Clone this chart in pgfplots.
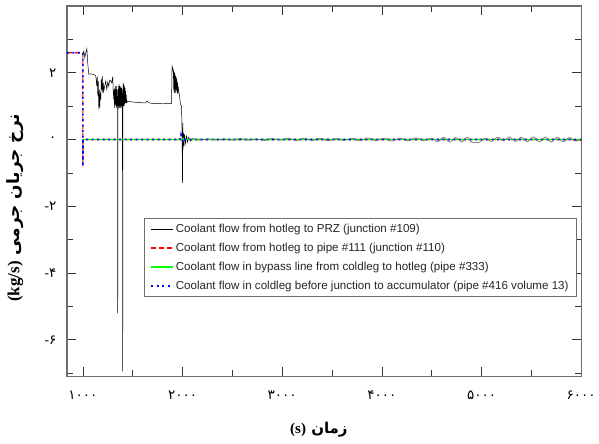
\documentclass[border=0pt]{standalone}
\usepackage{fontspec}
\usepackage{pgfplots}
\pgfplotsset{compat=1.18}
\setmainfont{Liberation Sans}
\newfontfamily\arabicfont[Script=Arabic]{DejaVu Sans}
\newfontfamily\latinserif{Liberation Serif}
\TeXXeTstate=1
\definecolor{frame}{RGB}{110,110,110}
\definecolor{lgreen}{RGB}{0,255,0}
\begin{document}
\begin{tikzpicture}
\begin{axis}[
  scale only axis,
  width=515pt, height=371pt,
  xmin=840, xmax=6000, ymin=-7.1, ymax=4,
  xtick={1000,2000,3000,4000,5000,6000},
  xticklabels={\mbox{۱۰۰۰},\mbox{۲۰۰۰},\mbox{۳۰۰۰},\mbox{۴۰۰۰},\mbox{۵۰۰۰},\mbox{۶۰۰۰}},
  minor xtick={1500,2500,3500,4500,5500},
  ytick={-6,-4,-2,0,2},
  yticklabels={\mbox{{\latinserif -}۶},\mbox{{\latinserif -}۴},\mbox{{\latinserif -}۲},\mbox{۰},\mbox{۲}},
  minor ytick={-7,-5,-3,-1,1,3},
  tick align=inside,
  major tick length=9pt, minor tick length=6pt,
  tick style={black!80, line width=0.6pt},
  axis line style={frame, line width=1.2pt},
  xticklabel style={font=\arabicfont\fontsize{13.5}{15}\selectfont, yshift=-11pt},
  yticklabel style={font=\arabicfont\fontsize{13.5}{15}\selectfont, xshift=-7pt},
  xlabel={\arabicfont\bfseries\fontsize{15}{17}\selectfont\beginR زمان \beginL{\latinserif\bfseries (s)}\endL\endR},
  ylabel={\arabicfont\bfseries\fontsize{17}{19}\selectfont\beginR نرخ جریان جرمی \beginL{\latinserif\bfseries (kg/s)}\endL\endR},
  xlabel style={at={(axis description cs:0.49,-0.143)}, anchor=center},
  ylabel style={at={(axis description cs:-0.101,0.455)}, anchor=center},
  legend cell align=left,
  legend style={at={(0.992,0.4286)}, anchor=north east, draw=frame, line width=1pt,
    font=\fontsize{11.6}{13}\selectfont\color{black!85}, row sep=5pt, inner xsep=6pt, inner ysep=4pt},
  legend image code/.code={\draw[#1] (0pt,0pt) -- (22pt,0pt);},
]
\addplot[black, line width=0.5pt] coordinates {
(1000,2.55) (1010,2.65) (1020,2.45) (1030,2.6) (1040,2.72) (1050,2.25) (1060,1.95)
(1080,1.97) (1100,1.95) (1120,1.93) (1130,1.9) (1140,1.6) (1145,1.88) (1150,1.3)
(1155,1.75) (1160,0.9) (1165,1.5) (1170,0.95) (1175,1.4) (1180,1.2) (1185,1.8)
(1190,1.5) (1195,1.9) (1200,1.4) (1205,1.7) (1210,1.45) (1220,1.6) (1230,1.75)
(1240,1.5) (1250,1.72) (1260,1.6) (1270,1.78) (1280,1.75) (1290,1.7) (1300,1.88)
(1305,1.45) (1310,1.2) (1315,1.5) (1318,0.95) (1321,1.55) (1324,1.0) (1327,1.6)
(1330,1.05) (1333,1.5) (1336,0.95) (1339,1.6) (1342,1.0) (1345,1.5) (1348,1.1)
(1350,-5.2) (1352,1.3) (1355,0.9) (1358,1.6) (1361,1.0) (1364,1.65) (1367,0.95)
(1370,1.6) (1373,1.0) (1376,1.55) (1379,0.95) (1382,1.6) (1385,0.95) (1388,1.55)
(1391,1.0) (1394,1.5) (1397,1.2) (1400,-6.95) (1402,1.3) (1405,1.7) (1408,1.0)
(1411,1.65) (1414,1.0) (1417,1.6) (1420,1.05) (1423,1.55) (1426,1.1) (1429,1.45)
(1432,1.1) (1435,1.35) (1440,1.1) (1450,1.15) (1500,1.12) (1600,1.1) (1630,1.1) (1645,1.15)
(1660,1.1) (1700,1.08) (1800,1.07) (1890,1.08) (1895,2.2) (1900,2.15) (1905,2.05)
(1908,2.1) (1911,1.5) (1914,2.05) (1917,1.4) (1920,2.0) (1923,1.45) (1926,1.95)
(1929,1.4) (1932,1.9) (1935,1.5) (1938,1.85) (1941,1.45) (1944,1.8) (1947,1.4)
(1950,1.7) (1953,1.35) (1956,1.6) (1960,1.5) (1970,1.3) (1980,1.05) (1990,1.0)
(1995,0.3) (2000,-1.3) (2003,0.5) (2006,-0.3) (2010,0.2) (2015,-0.2) (2020,0.15)
(2030,-0.12) (2040,0.1) (2050,-0.08) (2060,0.06) (2080,-0.05) (2100,0.03)
};
\addlegendentry{Coolant flow from hotleg to PRZ (junction \#109)}
\addplot[red, line width=1.2pt, dash pattern=on 5pt off 3pt] coordinates {
(840,2.6) (1000,2.6) (1000,-0.8) (1002,0) (1990,0) (2000,-0.05) (2010,0) (5900,0) (5950,-0.03) (6000,-0.02)
};
\addlegendentry{Coolant flow from hotleg to pipe \#111 (junction \#110)}
\addplot[lgreen, line width=1.3pt] coordinates {
(1000,0) (2000,0) (2005,0.03) (2010,0) (6000,0)
};
\addlegendentry{Coolant flow in bypass line from coldleg to hotleg (pipe \#333)}
\addplot[blue, line width=1.6pt, dash pattern=on 2pt off 3.5pt] coordinates {
(840,2.6) (1000,2.6) (1000,-0.8) (1002,0) (1975,0) (1985,0.15) (1995,0) (2005,-0.08) (2015,0) (6000,0)
};
\addlegendentry{Coolant flow in coldleg before junction to accumulator (pipe \#416 volume 13)}
\addplot[black!60, line width=0.6pt, smooth, forget plot] coordinates {
(2100,0.03)
(2180,-0.02) (2260,0.02) (2340,-0.02) (2420,0.02) (2500,-0.02) (2580,0.03)
(2660,-0.02) (2740,0.02) (2820,-0.03) (2900,0.03) (2980,-0.02) (3060,0.04)
(3140,-0.03) (3220,0.04) (3300,-0.03) (3380,0.04) (3460,-0.04) (3540,0.03)
(3620,-0.03) (3700,0.04) (3780,-0.04) (3860,0.05) (3940,-0.03) (4020,0.04)
(4100,-0.05) (4180,0.04) (4260,-0.04) (4340,0.05) (4420,-0.03) (4500,0.04)
(4560,-0.07) (4620,0.07) (4680,-0.08) (4740,0.06) (4800,-0.07) (4860,0.07)
(4900,-0.08) (4980,-0.08) (5040,0.04) (5100,-0.06) (5160,0.07) (5220,-0.04)
(5280,0.08) (5340,-0.06) (5400,0.07) (5460,-0.07) (5520,0.08) (5580,-0.07)
(5640,0.07) (5700,-0.08) (5760,0.07) (5820,-0.07) (5880,0.06) (5940,-0.04) (6000,0.0)
};
\end{axis}
\path ([shift={(-67pt,-67pt)}]current axis.south west) rectangle ([shift={(17pt,6pt)}]current axis.north east);
\end{tikzpicture}
\end{document}
